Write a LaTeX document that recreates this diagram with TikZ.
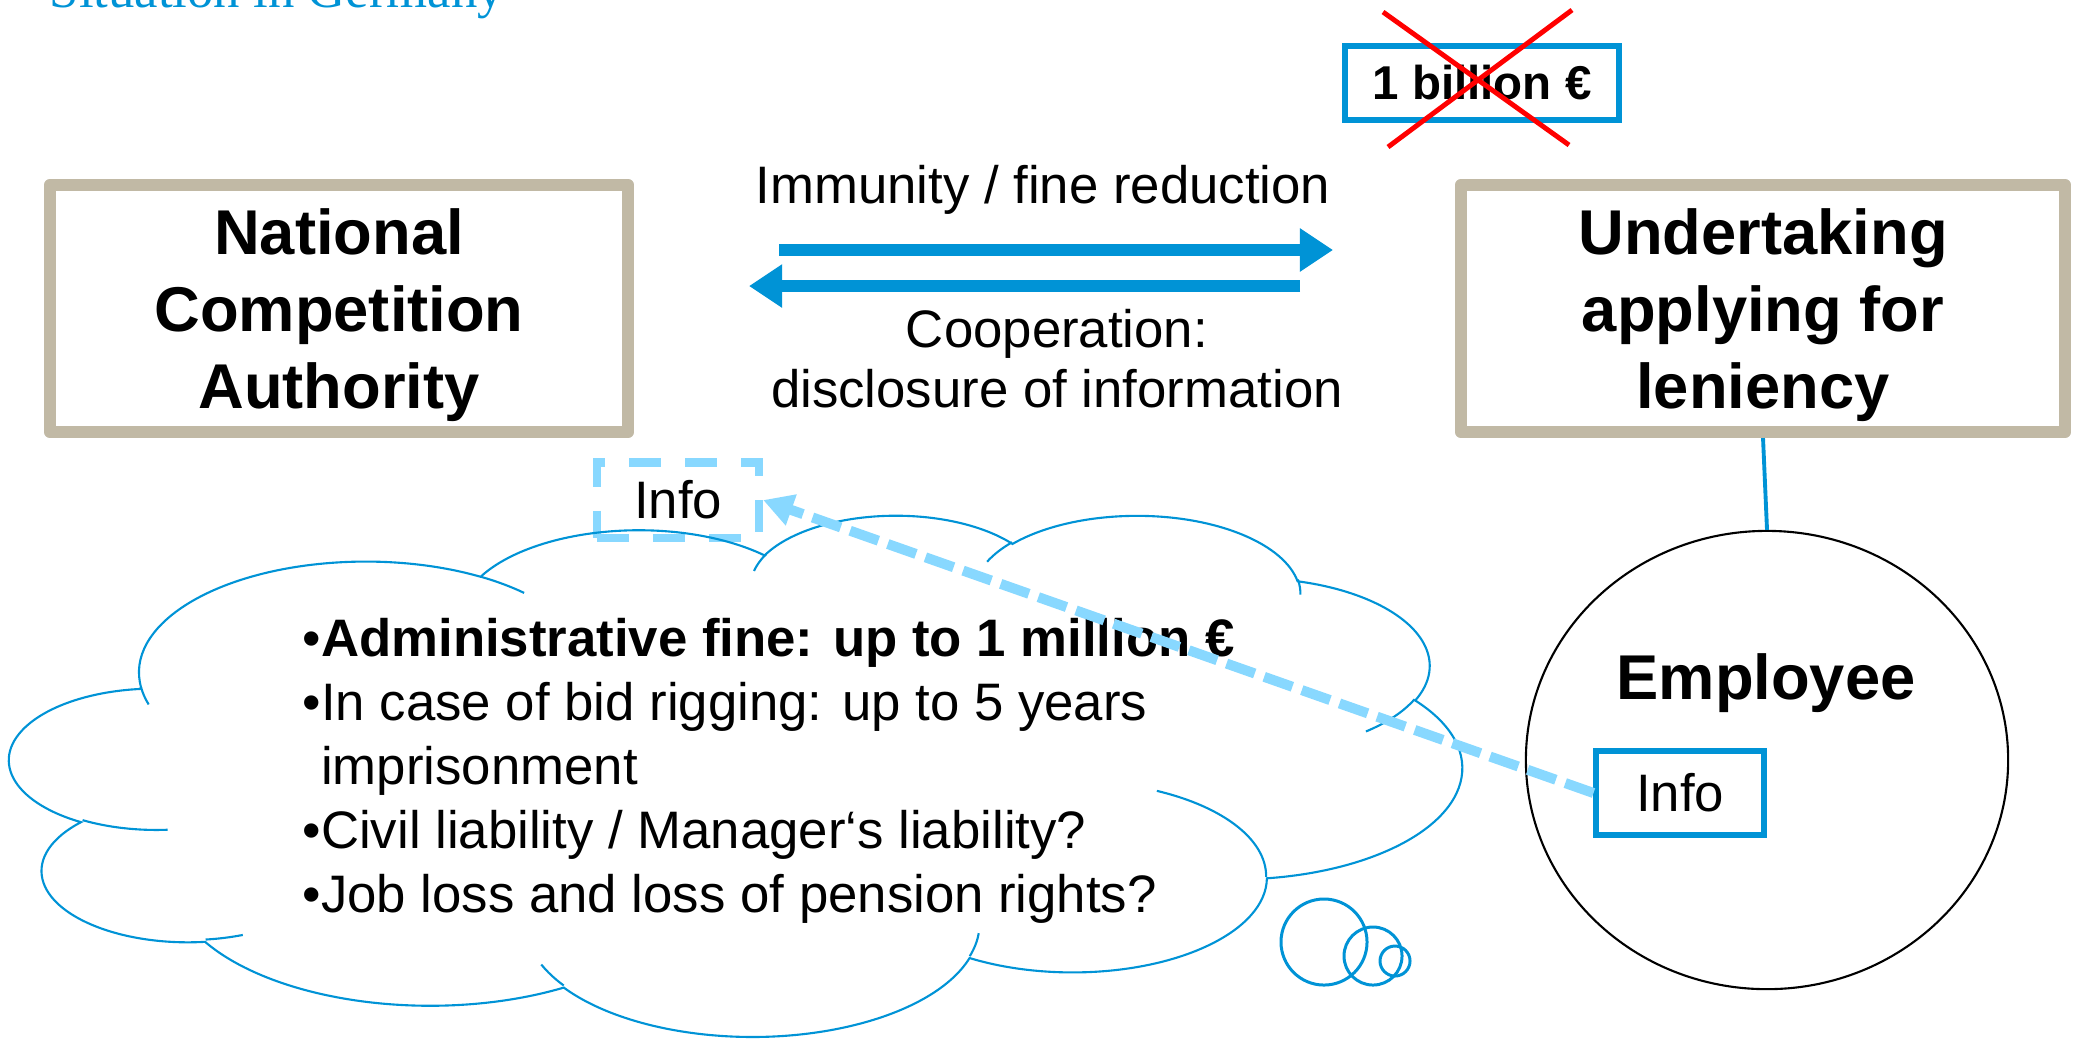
\documentclass[tikz,border=0pt]{standalone}
\usepackage{fontspec}
\setmainfont{Liberation Sans}
\newfontfamily\headfont{Liberation Serif}
\usetikzlibrary{arrows.meta,shapes.geometric}

\definecolor{bkblue}{RGB}{0,147,214}
\definecolor{paleblue}{RGB}{136,216,255}
\definecolor{frametan}{RGB}{193,185,165}

% one bump of the cloud: x radius, y radius, start and sweep angle
% (angles as seen on the page, turned into the ellipse parameter here)
\newcommand\puff[4]{%
  \pgfextra{%
    \pgfmathparse{atan2((#1)*sin(#3),(#2)*cos(#3))}\xdef\puffa{\pgfmathresult}%
    \pgfmathparse{atan2((#1)*sin((#3)+(#4)),(#2)*cos((#3)+(#4)))}\xdef\puffb{\pgfmathresult}%
    \pgfmathparse{mod(\puffb-(\puffa)+720,360)}\xdef\puffd{\pgfmathresult}}%
  arc[start angle=\puffa, delta angle=\puffd, x radius=#1, y radius=#2]}

\tikzset{
  party/.style={draw=frametan, line width=3.4pt, line join=round, minimum height=2.47cm,
    align=center, text depth=0pt, font=\fontsize{18}{22}\selectfont\bfseries},
  flow/.style={bkblue, line width=3.4pt, -{Triangle[length=9.4pt,width=11.7pt]}},
  say/.style={inner sep=0pt, align=center, font=\fontsize{15}{16.8}\selectfont},
  info/.style={line width=1.7pt, minimum width=1.67cm, minimum height=0.84cm, inner sep=0pt,
    font=\fontsize{15}{18}\selectfont},
  leak/.style={paleblue, line width=2.3pt, dash pattern=on 9.1pt off 6.8pt},
  leakline/.style={paleblue, line width=2.85pt, dash pattern=on 8.5pt off 2.85pt,
    -{Triangle[length=8.5pt,width=8.8pt]}},
  thought/.style={bkblue, line width=0.6pt},
}

\begin{document}
\begin{tikzpicture}[x=0.01cm, y=-0.01cm]
\useasboundingbox (0,0) rectangle (2080,1038);

\node[anchor=base west, inner sep=0pt, text=bkblue, font=\headfont\fontsize{15}{17}\selectfont] (title) at (49,7) {Situation in Germany};

% the two parties
\node[party, minimum width=5.78cm] (nca) at (339,308.5) {National\\Competition\\Authority};
\node[party, minimum width=6.04cm] (und) at (1763,308.5) {Undertaking\\applying for\\leniency};

% what goes back and forth between them
% (base of a multi-line node = its last line)
\node[say, anchor=base] (imm) at (1043,203) {Immunity / fine reduction};
\node[say, anchor=base] (coop) at (1057,407) {Cooperation:\\disclosure of information};
\coordinate (toUnd0) at (779,250);
\coordinate (toUnd1) at (1333,250);
\coordinate (toNca0) at (1300,286);
\coordinate (toNca1) at (749,286);
\draw[flow] (toUnd0) -- (toUnd1);
\draw[flow] (toNca0) -- (toNca1);

% the fine that is avoided
\node[draw=bkblue, line width=1.7pt, minimum width=2.74cm, minimum height=0.74cm, inner sep=0pt,
  font=\fontsize{13.5}{16}\selectfont\bfseries] (bil) at (1482,83) {1 billion €};
\draw[red, line width=1.4pt] (1383,12) -- (1569,145);
\draw[red, line width=1.4pt] (1572,10) -- (1388,147);

% the employee
\node[draw, ellipse, line width=0.6pt, minimum width=4.82cm, minimum height=4.58cm, inner sep=0pt] (emp) at (1767,760) {};
\node[anchor=base, inner sep=0pt, font=\fontsize{18}{22}\selectfont\bfseries] (emplab) at (1766,699) {Employee};
\draw[bkblue, line width=1.1pt] (und.south) -- (emp.north);
\node[info, draw=bkblue] (info2) at (1680,793) {Info};
\node[info, leak, draw, text=black, minimum width=1.62cm, minimum height=0.75cm] (info1) at (678,500) {Info};

% the worries, as a thought cloud
\begin{scope}[shift={(10,514)}, x=0.033588cm, y=-0.012060cm]
\draw[thought] (39,143.70)
  \puff{67.53}{91.90}{-190.4875}{123.7805}
  \puff{53.33}{72.67}{-144.1024}{89.9452}
  \puff{43.65}{59.45}{-145.8079}{99.7230}
  \puff{48.57}{65.95}{-130.9861}{117.2417}
  \puff{53.33}{72.73}{-78.7089}{109.0269}
  \puff{67.75}{92.20}{-46.2673}{130.2690}
  \puff{57.85}{78.67}{0.6250}{114.0333}
  \puff{67.52}{92.15}{22.4516}{115.1726}
  \puff{77.20}{105.43}{66.2426}{75.7110}
  \puff{43.60}{59.18}{-274.9421}{146.7356}
  \puff{43.45}{59.45}{-246.8285}{152.5302}
  -- cycle;
\draw[thought]
  (46.93,261.77) \puff{43.45}{59.45}{86.742}{26.4295}
  (69.28,348.99) \puff{43.60}{59.18}{73.6105}{11.4475}
  (164.78,390.90) \puff{67.52}{92.15}{137.6242}{14.0811}
  (288.27,347.51) \puff{67.52}{92.15}{6.4533}{15.9984}
  (341.29,229.54) \puff{57.85}{78.67}{-70.2924}{70.9174}
  (417.98,153.54) \puff{53.33}{72.73}{30.3180}{27.7515}
  (383.24,54.26) \puff{48.57}{65.95}{-13.7443}{14.8589}
  (290.78,39.52) \puff{48.57}{65.95}{-149.1815}{18.1954}
  (221.41,47.20) \puff{43.65}{59.45}{-163.4943}{17.6864}
  (140.00,51.92) \puff{67.53}{91.90}{-66.7070}{12.3194}
  (41.27,157.89) \puff{67.53}{91.90}{157.6544}{11.8582};
\end{scope}

\node[anchor=base west, inner sep=0pt, align=left, font=\fontsize{15}{18.2}\selectfont] (risks) at (302,912)
  {•\textbf{Administrative fine: up to 1 million €}\\
   •In case of bid rigging: up to 5 years\\
   \phantom{•}imprisonment\\
   •Civil liability / Manager‘s liability?\\
   •Job loss and loss of pension rights?};

% little bubbles leading to the cloud
\draw[bkblue, line width=0.85pt] (1324,942) circle[radius=0.43cm];
\draw[bkblue, line width=0.85pt] (1373,956) circle[radius=0.29cm];
\draw[bkblue, line width=0.85pt] (1395,961) circle[radius=0.15cm];

% the employee passes the info on
\draw[leakline] (info2.west) -- (info1.east);
\end{tikzpicture}
\end{document}
